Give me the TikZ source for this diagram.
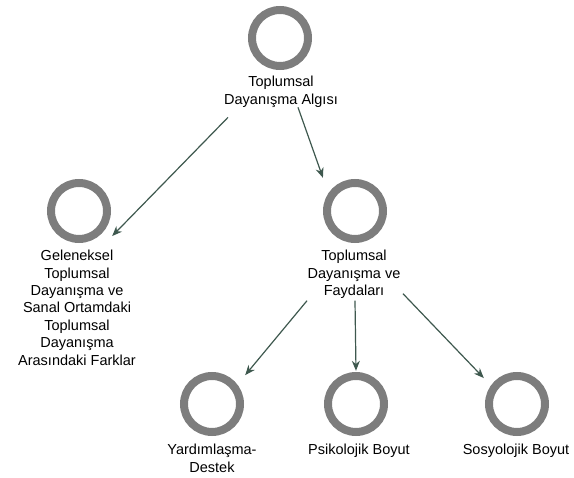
\documentclass[tikz,border=0pt]{standalone}
\usepackage{fontspec}
\setmainfont{Liberation Sans}
\usetikzlibrary{arrows.meta}
\definecolor{ringgray}{RGB}{125,125,125}
\definecolor{arrowgreen}{RGB}{62,88,78}
\tikzset{
	ring/.style={rectangle, minimum size=66pt, inner sep=0pt,
		path picture={\draw[ringgray, line width=8pt] (path picture bounding box.center) circle (28pt);}},
	lbl/.style={anchor=north, inner sep=0pt, align=center, font=\fontsize{14.5}{17.4}\selectfont},
	arr/.style={-{Stealth[length=10pt,width=8pt]}, draw=arrowgreen, line width=1.2pt}
}
\begin{document}
\begin{tikzpicture}[x=1pt,y=-1pt]
		\useasboundingbox (0,0) rectangle (574,478);
		% top
			\node[ring] (algi) at (280,38) {};
			\node[lbl] (algi-t) at (281,76) {Toplumsal\\Dayanışma Algısı};
		% second row
			\node[ring] (gel) at (79,211) {};
			\node[lbl] (gel-t) at (77,250) {Geleneksel\\Toplumsal\\Dayanışma ve\\Sanal Ortamdaki\\Toplumsal\\Dayanışma\\Arasındaki Farklar};
			\node[ring] (fay) at (355,211) {};
			\node[lbl] (fay-t) at (354,250) {Toplumsal\\Dayanışma ve\\Faydaları};
		% bottom row
			\node[ring] (yard) at (212,404) {};
			\node[lbl] (yard-t) at (212,444) {Yardımlaşma-\\Destek};
			\node[ring] (psik) at (356,404) {};
			\node[lbl] (psik-t) at (359,444) {Psikolojik Boyut};
			\node[ring] (sosy) at (517,404) {};
			\node[lbl] (sosy-t) at (516,444) {Sosyolojik Boyut};
		% arrows
			\draw[arr] ([xshift=-53pt,yshift=-10pt]algi-t.south) -- (gel.-37);
			\draw[arr] ([xshift=17pt]algi-t.south) -- (fay.134);
			\draw[arr] ([xshift=-47pt,yshift=-2pt]fay-t.south) -- (yard.41);
			\draw[arr] ([xshift=1pt,yshift=-2pt]fay-t.south) -- (psik.north);
			\draw[arr] ([xshift=49pt,yshift=5pt]fay-t.south) -- (sosy.142);
	\end{tikzpicture}
\end{document}
